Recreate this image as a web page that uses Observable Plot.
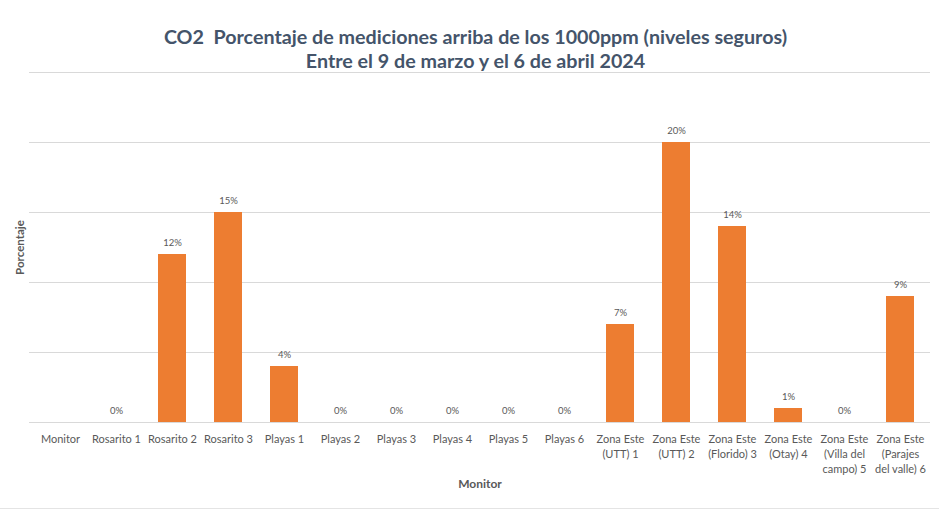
<!DOCTYPE html>
<html>
<head>
<meta charset="utf-8">
<script src="https://cdn.jsdelivr.net/npm/d3@7"></script>
<script src="https://cdn.jsdelivr.net/npm/@observablehq/plot@0.6"></script>
<style>
  html, body { margin: 0; padding: 0; background: #fff; }
  #wrap { position: relative; width: 939px; height: 511px; overflow: hidden; }
  #title { position: absolute; left: 6px; top: 25px; width: 939px; text-align: center;
           font-family: Lato, "Open Sans", sans-serif; font-weight: bold; font-size: 19.7px;
           line-height: 24px; color: #44546A; }
  #sheetline { position: absolute; left: 0; top: 508px; width: 939px; height: 0; border-top: 1px solid #E4E4E4; }
</style>
</head>
<body>
<div id="wrap">
  <div id="chart"></div>
  <div id="title">CO2&nbsp; Porcentaje de mediciones arriba de los 1000ppm (niveles seguros)<br>Entre el 9 de marzo y el 6 de abril 2024</div>
  <div id="sheetline"></div>
</div>
<script>
const categories = [
  "Monitor", "Rosarito 1", "Rosarito 2", "Rosarito 3", "Playas 1", "Playas 2",
  "Playas 3", "Playas 4", "Playas 5", "Playas 6",
  "Zona Este (UTT) 1", "Zona Este (UTT) 2", "Zona Este (Florido) 3",
  "Zona Este (Otay) 4", "Zona Este (Villa del campo) 5", "Zona Este (Parajes del valle) 6"
];
const tickLabels = [
  "Monitor", "Rosarito 1", "Rosarito 2", "Rosarito 3", "Playas 1", "Playas 2",
  "Playas 3", "Playas 4", "Playas 5", "Playas 6",
  "Zona Este\n(UTT) 1", "Zona Este\n(UTT) 2", "Zona Este\n(Florido) 3",
  "Zona Este\n(Otay) 4", "Zona Este\n(Villa del\ncampo) 5", "Zona Este\n(Parajes\ndel valle) 6"
];
const values = [null, 0, 12, 15, 4, 0, 0, 0, 0, 0, 7, 20, 14, 1, 0, 9];
const gridTicks = [0, 5, 10, 15, 20, 25];

const data = categories.map((c, i) => ({monitor: c, value: values[i]}));
const withValues = data.filter(d => d.value !== null);
const labelOf = new Map(categories.map((c, i) => [c, tickLabels[i]]));

const font = "Lato, 'Open Sans', sans-serif";

const chart = Plot.plot({
  width: 939,
  height: 511,
  marginTop: 72,
  marginBottom: 89,
  marginLeft: 29,
  marginRight: 9,
  style: { fontFamily: font, background: "#fff", overflow: "visible" },
  x: { domain: categories, paddingInner: 0.5, paddingOuter: 0.25, label: null },
  y: { domain: [0, 25], label: null, axis: null },
  marks: [
    Plot.ruleY(gridTicks, { stroke: "#D9D9D9", strokeWidth: 1 }),
    Plot.barY(withValues, { x: "monitor", y: "value", fill: "#ED7D31" }),
    Plot.text(withValues, {
      x: "monitor", y: "value", text: d => d.value + "%",
      dy: -12, fontSize: 9.5, fill: "#595959", fontFamily: font
    }),
    Plot.axisX({
      tickSize: 0, tickPadding: 10, fontSize: 11, color: "#595959",
      tickFormat: d => labelOf.get(d), lineHeight: 1.36, label: null
    }),
    Plot.text(["Porcentaje"], {
      frameAnchor: "left", textAnchor: "middle", dx: -9, rotate: -90, fontSize: 11.5, fontWeight: "bold",
      fill: "#595959", fontFamily: font
    }),
    Plot.text(["Monitor"], {
      frameAnchor: "bottom", dy: 65, fontSize: 12, fontWeight: "bold",
      fill: "#595959", fontFamily: font
    })
  ]
});
document.getElementById("chart").appendChild(chart);
</script>
</body>
</html>
